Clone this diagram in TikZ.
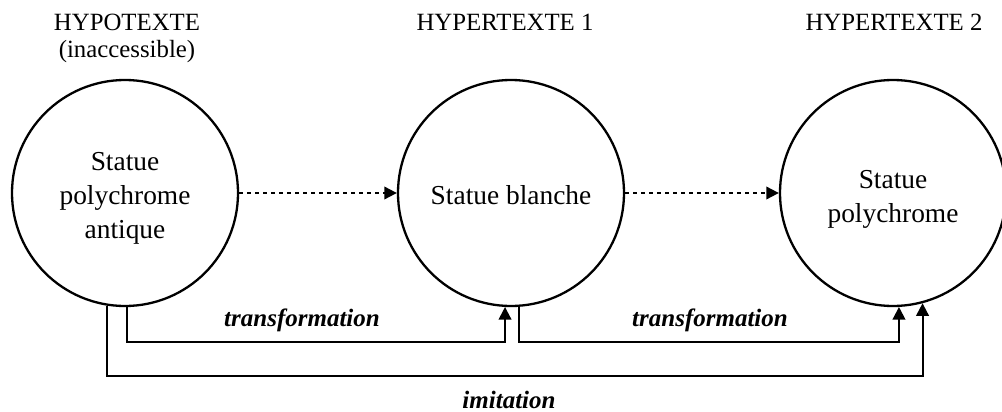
\documentclass[tikz,border=0pt]{standalone}
\usepackage{fontspec}
\setmainfont{Liberation Serif}
\usetikzlibrary{arrows.meta}
\begin{document}
\begin{tikzpicture}[x=0.5pt,y=-0.5pt,
  circ/.style={circle,draw,line width=1.15pt,minimum size=113pt,inner sep=0pt},
  txt/.style={align=center,inner sep=0pt,font=\fontsize{13.7}{17}\selectfont},
  head/.style={anchor=base,inner sep=0pt,font=\fontsize{12.4}{14}\selectfont},
  lbl/.style={inner sep=0pt,font=\fontsize{12.5}{14}\selectfont\bfseries\itshape},
  conn/.style={line width=1pt,-{Triangle[length=6.3pt,width=6.3pt]}},
  dots/.style={conn,dash pattern=on 2pt off 2pt}]
\useasboundingbox (0,0) rectangle (1002,412);
\node[circ] (A) at (125,193) {};
\node[circ] (B) at (511,193) {};
\node[circ] (C) at (893,193) {};
\node[txt] (At) at (125,198) {Statue\\polychrome\\antique};
\node[txt] (Bt) at (511,195) {Statue blanche};
\node[txt] (Ct) at (893,199) {Statue\\polychrome};
\node[head] (hA) at (127,30.7) {HYPOTEXTE};
\node[head] (hA2) at (127,57) {(inaccessible)};
\node[head] (hB) at (505,30.7) {HYPERTEXTE 1};
\node[head] (hC) at (894,30.7) {HYPERTEXTE 2};
\draw[dots] (A) -- (B);
\draw[dots] (B) -- (C);
\coordinate (t1) at (302,342);
\coordinate (t2) at (710,342);
\coordinate (im) at (509,376);
\draw[conn] (A.-89) |- (t1) -| (B.-93.9);
\draw[conn] (B.-86.3) |- (t2) -| (C.-87.6);
\draw[conn] (A.-99.3) |- (im) -| (C.-75.3);
\node[lbl] (l1) at (302,320) {transformation};
\node[lbl] (l2) at (710,320) {transformation};
\node[lbl] (l3) at (509,400) {imitation};
\end{tikzpicture}
\end{document}
